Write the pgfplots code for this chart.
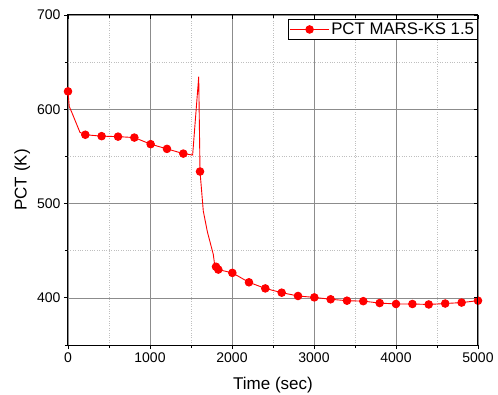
\documentclass[border=0pt]{standalone}
\usepackage{pgfplots}
\pgfplotsset{compat=1.18}
\usepackage{fontspec}
\setmainfont{Liberation Sans}
\begin{document}
\begin{tikzpicture}
\begin{axis}[
 scale only axis, width=410pt, height=330pt,
 xmin=0,xmax=5000,ymin=350,ymax=700,
 xtick={0,1000,...,5000}, ytick={400,500,600,700},
 minor xtick={500,1500,2500,3500,4500}, minor ytick={350,450,550,650},
 grid=both,
 major grid style={gray!90, line width=0.6pt},
 minor grid style={gray!50, dotted, line width=0.5pt},
 axis line style={black, line width=1pt},
 tick align=outside, tick pos=left,
 major tick length=4pt, minor tick length=3pt,
 tick style={black, line width=0.8pt},
 ticklabel style={font=\fontsize{14}{16}\selectfont},
 /pgf/number format/assume math mode=true,
 /pgf/number format/1000 sep={},
 scaled ticks=false,
 xlabel={Time (sec)}, ylabel={PCT (K)},
 label style={font=\fontsize{17}{19}\selectfont},
 xlabel style={yshift=-8pt},
 legend style={at={(1,0.988)}, anchor=north east, draw=black, line width=0.8pt,
   font=\fontsize{16.8}{18}\selectfont, inner sep=1.5pt},
 legend cell align=left,
 legend image code/.code={
   \draw[red, line width=0.9pt] (0cm,0cm) -- (1.35cm,0cm);
   \fill[red] (0.675cm,0cm) circle (3.8pt);},
]
\addplot[red, line width=0.9pt, mark=*, mark size=3.8pt, mark options={solid, fill=red},
  mark indices={1,5,6,7,8,9,10,11,14,19,20,21,22,23,24,25,26,27,28,29,30,31,32,33,34,35,36}]
 table {
t v
0 619
15 603
45 597
146 575.5
211 573
410 571.5
610 571
809 570
1008 563
1207 558
1406 553
1520 551.5
1594 634.5
1610 534
1650 492
1700 470
1772 446
1790 434
1805 433
1833 430
2004 426.5
2207 416.5
2406 410
2606 405.5
2805 402
3004 400.5
3203 398.5
3402 397
3601 396.5
3801 394.5
4000 393.5
4200 393.5
4399 393
4600 394
4800 395
5000 397
};
\addlegendentry{PCT MARS-KS 1.5}
\end{axis}
\begin{axis}[
 scale only axis, width=410pt, height=330pt,
 xmin=0,xmax=5000,ymin=350,ymax=700,
 xtick={0,1000,...,5000}, ytick={400,500,600,700},
 minor xtick={500,1500,2500,3500,4500}, minor ytick={350,450,550,650},
 axis x line*=top, axis y line*=right,
 axis line style={black, line width=1pt},
 tick align=inside,
 major tick length=4pt, minor tick length=3pt,
 tick style={black, line width=0.8pt},
 xticklabels={}, yticklabels={},
]
\end{axis}
\pgfresetboundingbox
\path (current axis.south west) ++(-68pt,-49pt) rectangle ++(498pt,394pt);
\end{tikzpicture}
\end{document}
